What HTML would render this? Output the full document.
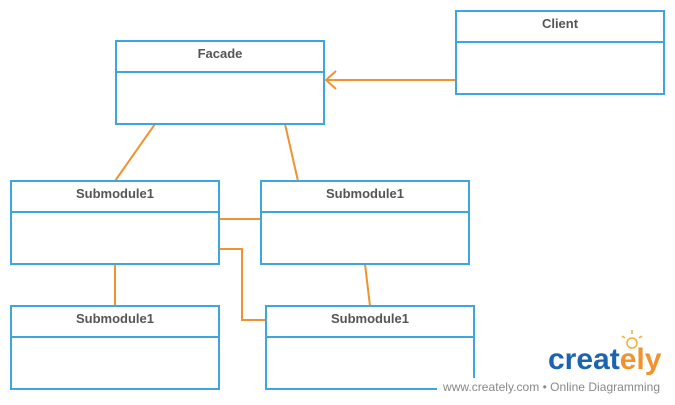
<!DOCTYPE html>
<html><head><style>
body{margin:0;background:#fff;width:675px;height:400px;overflow:hidden;font-family:"Liberation Sans",sans-serif}
</style></head><body>
<svg width="675" height="400" xmlns="http://www.w3.org/2000/svg">
<g stroke="#f0922e" stroke-width="2" fill="none">
<line x1="155" y1="124" x2="115" y2="181"/>
<line x1="285" y1="124" x2="298" y2="181"/>
<line x1="456" y1="80" x2="326" y2="80"/>
<polyline points="336,71 326,80 336,89"/>
<line x1="219" y1="219" x2="261" y2="219"/>
<polyline points="219,249 242,249 242,320 266,320"/>
<line x1="115" y1="264" x2="115" y2="306"/>
<line x1="365" y1="264" x2="370" y2="306"/>
</g>
<g stroke="#3ea6dd" stroke-width="2" fill="none">
<rect x="116" y="41" width="208" height="83"/><line x1="116" y1="72" x2="324" y2="72"/>
<rect x="456" y="11" width="208" height="83"/><line x1="456" y1="42" x2="664" y2="42"/>
<rect x="11" y="181" width="208" height="83"/><line x1="11" y1="212" x2="219" y2="212"/>
<rect x="261" y="181" width="208" height="83"/><line x1="261" y1="212" x2="469" y2="212"/>
<rect x="11" y="306" width="208" height="83"/><line x1="11" y1="337" x2="219" y2="337"/>
<rect x="266" y="306" width="208" height="83"/><line x1="266" y1="337" x2="474" y2="337"/>
</g>
<g font-size="13" font-weight="bold" fill="#555" text-anchor="middle">
<text x="220" y="58">Facade</text>
<text x="560" y="28">Client</text>
<text x="115" y="198">Submodule1</text>
<text x="365" y="198">Submodule1</text>
<text x="115" y="323">Submodule1</text>
<text x="370" y="323">Submodule1</text>
</g>
<rect x="437" y="378" width="238" height="22" fill="#fff"/>
<text x="443" y="391" font-size="12" fill="#888" textLength="217">www.creately.com • Online Diagramming</text>
<text x="548" y="369" font-size="30" font-weight="bold" fill="#1b64b0">creat<tspan fill="#f0922e">ely</tspan></text>
<g stroke="#f0b030" stroke-width="1.5" fill="none">
<circle cx="632" cy="343" r="5"/>
<line x1="632" y1="330" x2="632" y2="334"/><line x1="622" y1="336" x2="625" y2="338"/><line x1="642" y1="336" x2="639" y2="338"/>
</g>
</svg>
</body></html>
